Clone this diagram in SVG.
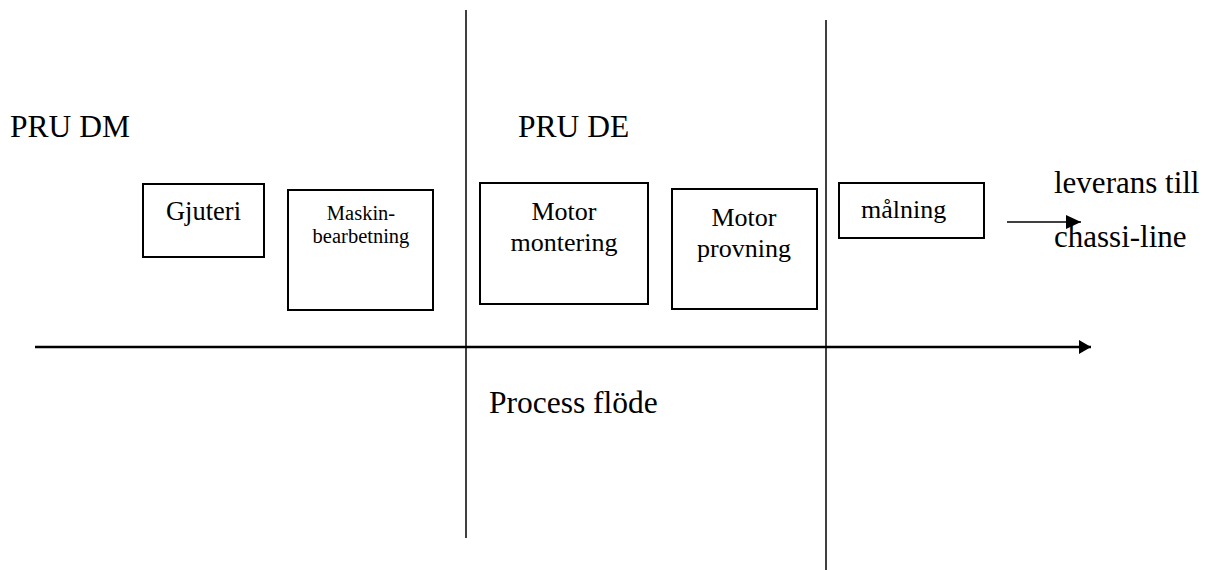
<svg xmlns="http://www.w3.org/2000/svg" width="1212" height="570" viewBox="0 0 1212 570">
<style>
.box{fill:#fff;stroke:#000;stroke-width:2}
.ln{stroke:#000;stroke-width:1.5;fill:none}
.ax{stroke:#000;stroke-width:2.5;fill:none}
</style>
<defs>
<marker id="ah" markerWidth="12" markerHeight="14" refX="12" refY="7" orient="auto" markerUnits="userSpaceOnUse" viewBox="0 0 12 14">
<path d="M0,0 L12,7 L0,14 z" fill="#000"/>
</marker>
<marker id="ah2" markerWidth="15" markerHeight="14" refX="15" refY="7" orient="auto" markerUnits="userSpaceOnUse" viewBox="0 0 15 14">
<path d="M0,0 L15,7 L0,14 z" fill="#000"/>
</marker>
</defs>
<g id="connectors">
<line class="ln" x1="466" y1="10" x2="466" y2="538"/>
<line class="ln" x1="826" y1="20" x2="826" y2="570"/>
<line class="ax" x1="35" y1="347" x2="1091" y2="347" marker-end="url(#ah)"/>
<line class="ln" x1="1007" y1="222" x2="1081" y2="222" marker-end="url(#ah2)"/>
</g>
<g font-family="'Liberation Serif', 'Times New Roman', serif" fill="#000">
<g id="labels">
<text x="10" y="137" font-size="31.5">PRU DM</text>
<text x="518" y="137" font-size="31.5">PRU DE</text>
<text x="489" y="413" font-size="31.5">Process flöde</text>
<text x="1054" y="193" font-size="31">leverans till</text>
<text x="1054" y="247" font-size="31">chassi-line</text>
</g>
<g id="gjuteri">
<rect class="box" x="143" y="184" width="121" height="73"/>
<text x="203.5" y="220" font-size="26.5" text-anchor="middle">Gjuteri</text>
</g>
<g id="maskin">
<rect class="box" x="288" y="190" width="145" height="120"/>
<text x="361" y="220" font-size="20.5" text-anchor="middle">Maskin-</text>
<text x="361" y="243" font-size="20.5" text-anchor="middle">bearbetning</text>
</g>
<g id="motormontering">
<rect class="box" x="480" y="183" width="168" height="121"/>
<text x="564" y="220" font-size="26" text-anchor="middle">Motor</text>
<text x="564" y="251" font-size="26" text-anchor="middle">montering</text>
</g>
<g id="motorprovning">
<rect class="box" x="672" y="189" width="145" height="120"/>
<text x="744" y="226" font-size="26" text-anchor="middle">Motor</text>
<text x="744" y="257" font-size="26" text-anchor="middle">provning</text>
</g>
<g id="malning">
<rect class="box" x="839" y="183" width="145" height="55"/>
<text x="861" y="218" font-size="26">målning</text>
</g>
</g>
</svg>
